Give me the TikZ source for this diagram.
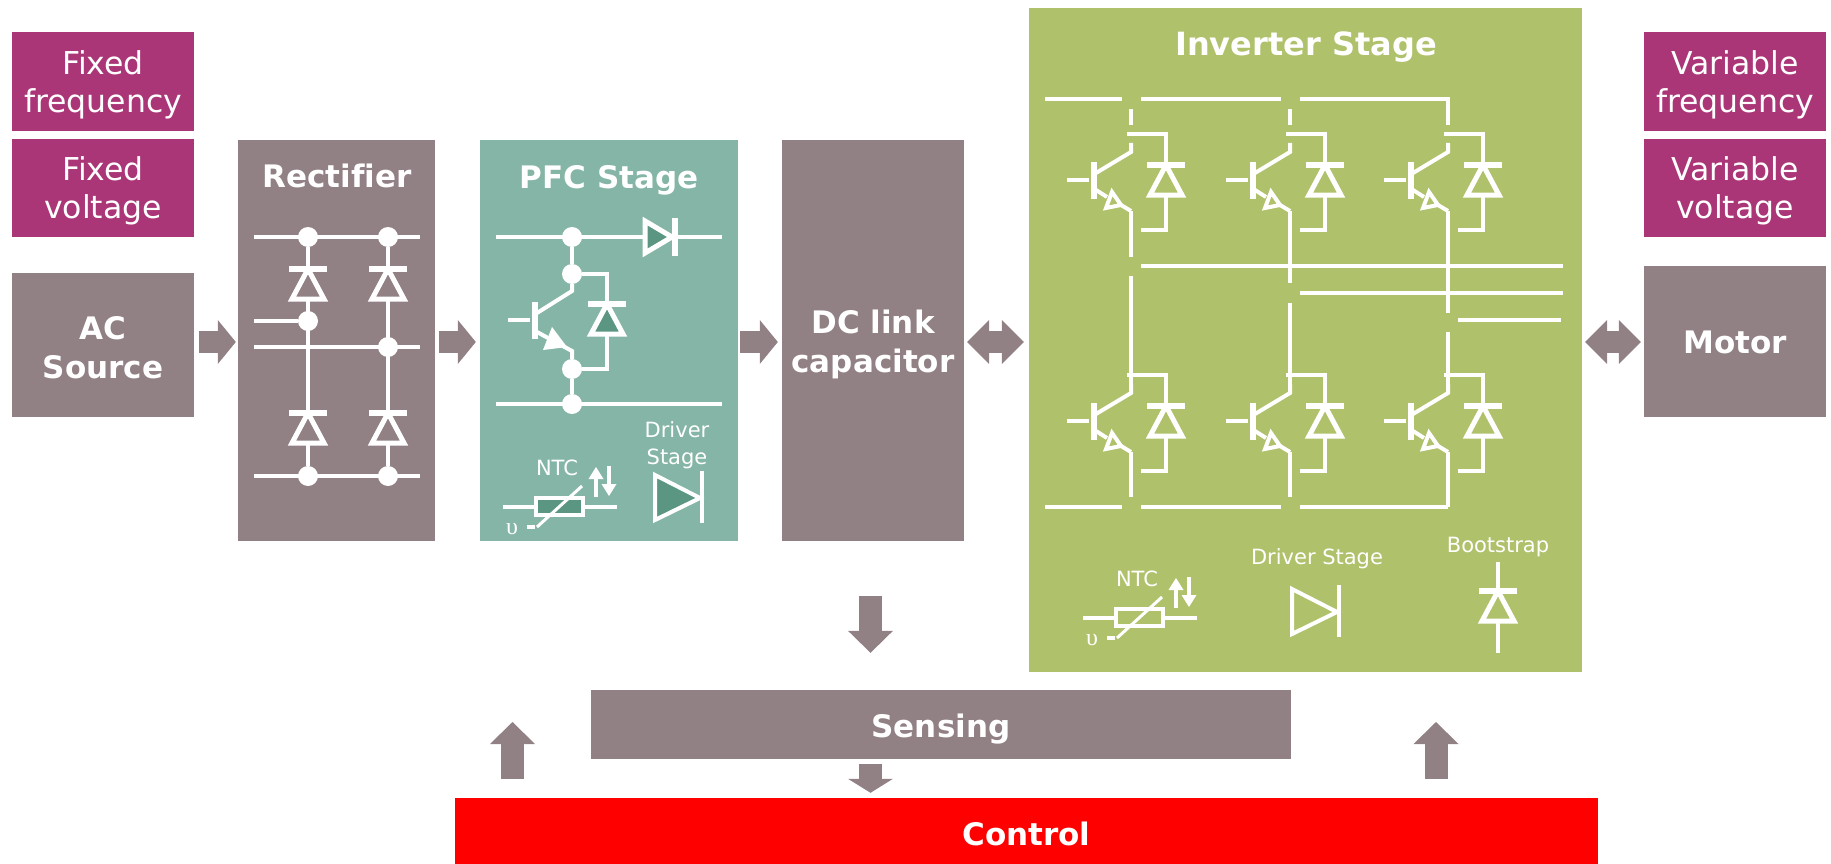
\documentclass[tikz,border=0pt]{standalone}
\usepackage{fontspec}
\setmainfont{DejaVu Sans}[Ligatures=NoCommon]
\newfontfamily\upsfont{Liberation Serif}
\usetikzlibrary{arrows.meta}
\definecolor{boxgray}{HTML}{918084}
\definecolor{boxpurple}{HTML}{AA3577}
\definecolor{pfcgreen}{HTML}{85B5A6}
\definecolor{pfcdark}{HTML}{5A9681}
\definecolor{invgreen}{HTML}{AFC16B}
\begin{document}
\begin{tikzpicture}[x=1pt,y=-1pt,
block/.style ={rectangle, fill=boxgray, inner sep=0pt},
tag/.style ={rectangle, fill=boxpurple, inner sep=0pt, minimum width=182pt},
tagtext/.style ={text=white, align=center, inner sep=0pt, font=\fontsize{31.5}{38}\selectfont},
title/.style ={text=white, align=center, inner sep=0pt, font=\fontsize{31}{39}\selectfont\bfseries},
small/.style ={text=white, inner sep=0pt, align=center, font=\fontsize{21}{27}\selectfont},
wire/.style ={draw=white, line width=4pt},
dot/.style ={circle, fill=white, inner sep=0pt, minimum size=20pt},
barrow/.style ={draw=boxgray, line width=22pt, -{Triangle[length=18pt,width=44pt,line width=0pt]}},
bdouble/.style ={draw=boxgray, line width=22pt, {Triangle[length=22pt,width=44pt,line width=0pt]}-{Triangle[length=22pt,width=44pt,line width=0pt]}},
varrow/.style ={draw=boxgray, line width=23pt, -{Triangle[length=22pt,width=45pt,line width=0pt]}},
pics/diode/.style ={code={
  \filldraw[draw=white, line width=5pt, fill=#1] (0,0) -- (16,30) -- (-16,30) -- cycle;
  \draw[draw=white, line width=6pt] (-19,0) -- (19,0);
}},
pics/driver/.style ={code={
  \filldraw[draw=white, line width=4pt, fill=#1] (-47,-22) -- (-47,23) -- (-2,1) -- cycle;
  \draw[wire] (0,-26) -- (0,26);
}},
pics/ntc/.style ={code={
  \draw[wire] (-56.5,0) -- (57.5,0);
  \filldraw[draw=white, line width=4pt, fill=#1] (-23.5,-8.5) rectangle (23.5,8.5);
  \draw[draw=white, line width=3pt] (-22.5,20.5) -- (22.5,-20.5);
  \draw[wire] (-32.5,20.5) -- (-24.5,20.5);
  \draw[draw=white, line width=4pt, -{Triangle[length=12pt,width=15pt,line width=0pt]}] (36.5,-9.5) -- (36.5,-39.5);
  \draw[draw=white, line width=4pt, -{Triangle[length=12pt,width=15pt,line width=0pt]}] (49.5,-40.5) -- (49.5,-10.5);
  \node at (-2.5,-38.5) [small] {NTC};
  \node at (-47.5,22.5) [text=white, inner sep=0pt, font=\fontsize{24}{24}\upsfont] {υ};
}},
pics/igbt/.style ={code={
  \draw[wire] (-4,0) -- (35,0) -- (35,31);
  \draw[wire] (35,62) -- (35,96) -- (10,96);
  \draw[wire] (0,9) -- (0,18) -- (-35,39);
  \draw[wire] (-35,56) -- (-24,63);
  \draw[wire] (-10,71) -- (0,77);
  \draw[draw=white, line width=6pt] (-37,28) -- (-37,65);
  \draw[wire] (-64,46) -- (-42,46);
  \filldraw[draw=white, line width=4pt, fill=invgreen] (-19,58) -- (-25,74) -- (-10,71) -- cycle;
  \pic at (35,31) {diode=invgreen};
}}]
\useasboundingbox (0,0) rectangle (1831,864);
% boxes
\node (fixf) at (103,81.5) [tag, minimum height=99pt] {};
\node (fixv) at (103,188) [tag, minimum height=98pt] {};
\node (ac) at (103,345) [block, minimum width=182pt, minimum height=144pt] {};
\node (rect) at (336.5,340.5) [block, minimum width=197pt, minimum height=401pt] {};
\node (pfc) at (609,340.5) [block, fill=pfcgreen, minimum width=258pt, minimum height=401pt] {};
\node (dc) at (873,340.5) [block, minimum width=182pt, minimum height=401pt] {};
\node (inv) at (1305.5,340) [block, fill=invgreen, minimum width=553pt, minimum height=664pt] {};
\node (varf) at (1735,81.5) [tag, minimum height=99pt] {};
\node (varv) at (1735,188) [tag, minimum height=98pt] {};
\node (motor) at (1735,341.5) [block, minimum width=182pt, minimum height=151pt] {};
\node (sens) at (941,724.5) [block, minimum width=700pt, minimum height=69pt] {};
\node (ctrl) at (1026.5,834) [block, fill=red, minimum width=1143pt, minimum height=72pt] {};
% texts
\node (tfixf) at (103,84.5) [tagtext] {Fixed\\frequency};
\node (tfixv) at (103,191) [tagtext] {Fixed\\voltage};
\node (tvarf) at (1735,84.5) [tagtext] {Variable\\frequency};
\node (tvarv) at (1735,191) [tagtext] {Variable\\voltage};
\node (tac) at (103,348) [title] {AC\\Source};
\node (tdc) at (873,344.5) [title] {DC link\\capacitor};
\node (tmotor) at (1735,342.5) [title] {Motor};
\node (tsens) at (941,729) [title] {Sensing};
\node (tctrl) at (1026.5,834) [title] {Control};
\node (trect) at (337,176) [title] {Rectifier};
\node (tpfc) at (609,180) [title] {PFC Stage};
\node (tinv) at (1306,47.5) [title, font=\fontsize{32}{39}\selectfont\bfseries] {Inverter Stage};
% arrows
\coordinate (busy) at (0,342);
\coordinate (dnx) at (870.5,0);
\coordinate (upl) at (512.5,722);
\coordinate (upr) at (1436,722);
\draw[barrow, shorten <=5pt, shorten >=2pt] (ac.east |- busy) -- (rect.west |- busy);
\draw[barrow, shorten <=4pt, shorten >=4pt] (rect.east |- busy) -- (pfc.west |- busy);
\draw[barrow, shorten <=2pt, shorten >=4pt] (pfc.east |- busy) -- (dc.west |- busy);
\draw[bdouble, shorten <=3pt, shorten >=5pt] (dc.east |- busy) -- (inv.west |- busy);
\draw[bdouble, shorten <=3pt, shorten >=3pt] (inv.east |- busy) -- (motor.west |- busy);
\draw[varrow, shorten <=55pt, shorten >=37pt] (dc.south -| dnx) -- (sens.north -| dnx);
\draw[varrow, -{Triangle[length=14pt,width=45pt,line width=0pt]}, shorten <=5pt, shorten >=5pt] (sens.south -| dnx) -- (ctrl.north -| dnx);
\draw[varrow, shorten <=19pt] (ctrl.north -| upl) -- (upl);
\draw[varrow, shorten <=19pt] (ctrl.north -| upr) -- (upr);
% rectifier
\node (r1) at (308,237) [dot] {};
\node (r2) at (388,237) [dot] {};
\node (r3) at (308,321) [dot] {};
\node (r4) at (388,347) [dot] {};
\node (r5) at (308,476) [dot] {};
\node (r6) at (388,476) [dot] {};
\draw[wire] (254,237) -- (420,237);
\draw[wire] (254,321) -- (r3);
\draw[wire] (254,347) -- (420,347);
\draw[wire] (254,476) -- (420,476);
\draw[wire] (r1) -- (r5);
\draw[wire] (r2) -- (r6);
\foreach \x in {308,388} {
  \pic at (\x,269) {diode=boxgray};
  \pic at (\x,413) {diode=boxgray};
}
% pfc
\node (p1) at (572,237) [dot] {};
\node (p2) at (572,274) [dot] {};
\node (p3) at (572,369) [dot] {};
\node (p4) at (572,404) [dot] {};
\draw[wire] (496,237) -- (722,237);
\draw[wire] (496,404) -- (722,404);
\draw[wire] (p1) -- (p2);
\draw[wire] (p3) -- (p4);
\draw[wire] (p2) -- (572,291) -- (537,313);
\draw[wire] (537,332) -- (572,351) -- (p3);
\draw[wire] (p2) -- (607,274) -- (607,369) -- (p3);
\draw[draw=white, line width=6pt] (535,302) -- (535,339);
\draw[wire] (508,320) -- (530,320);
\fill[white] (552,327) -- (543,350) -- (567,347) -- cycle;
\pic at (607,304) {diode=pfcdark};
\filldraw[draw=white, line width=5pt, fill=pfcdark] (645,221) -- (645,253) -- (672,237) -- cycle;
\draw[draw=white, line width=6pt] (675,218) -- (675,256);
\pic at (702,497) {driver=pfcdark};
\node (dpfc) at (677,445) [small] {Driver\\Stage};
\pic at (559.5,506.5) {ntc=pfcdark};
% inverter
\foreach \c/\upend/\lowbeg in {1131/257/276, 1290/283/303, 1448/313/332} {
  \pic at (\c,134) {igbt};
  \pic at (\c,375) {igbt};
  \draw[wire] (\c,211) -- (\c,\upend);
  \draw[wire] (\c,\lowbeg) -- (\c,392);
}
\draw[wire] (1131,109) -- (1131,125);
\draw[wire] (1290,109) -- (1290,125);
\draw[wire] (1045,99) -- (1122,99);
\draw[wire] (1141,99) -- (1281,99);
\draw[wire] (1300,99) -- (1448,99) -- (1448,125);
\draw[wire] (1141,266) -- (1563,266);
\draw[wire] (1300,293) -- (1563,293);
\draw[wire] (1458,320) -- (1561,320);
\draw[wire] (1131,452) -- (1131,497);
\draw[wire] (1290,452) -- (1290,497);
\draw[wire] (1448,452) -- (1448,507);
\draw[wire] (1045,507) -- (1122,507);
\draw[wire] (1141,507) -- (1281,507);
\draw[wire] (1300,507) -- (1448,507);
\pic at (1139.5,617.5) {ntc=invgreen};
\pic at (1339,611) {driver=invgreen};
\node (dinv) at (1317,559) [small] {Driver Stage};
\node (boot) at (1498,547) [small] {Bootstrap};
\draw[wire] (1498,562) -- (1498,653);
\pic at (1498,591) {diode=invgreen};
\end{tikzpicture}
\end{document}
